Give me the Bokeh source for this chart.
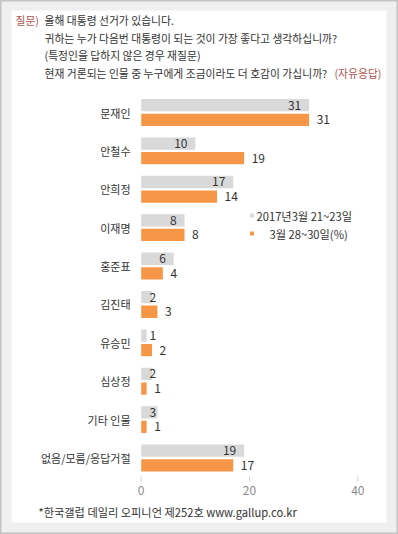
import numpy as np
from bokeh.plotting import figure
from bokeh.models import Range1d
from bokeh.core.properties import value
from bokeh.embed import file_html
from bokeh.resources import INLINE

# ---------------- data ----------------
categories = ["문재인", "안철수", "안희정", "이재명", "홍준표", "김진태",
              "유승민", "심상정", "기타 인물", "없음/모름/응답거절"]
week_mar21_23 = [31, 10, 17, 8, 6, 2, 1, 2, 3, 19]
week_mar28_30 = [31, 19, 14, 8, 4, 3, 2, 1, 1, 17]
series_names = ["2017년3월 21~23일", "3월 28~30일(%)"]
x_ticks = [0, 20, 40]
x_tick_labels = ["0", "20", "40"]
question_tag = "질문)"
question_lines = [
    "올해 대통령 선거가 있습니다.",
    "귀하는 누가 다음번 대통령이 되는 것이 가장 좋다고 생각하십니까?",
    "(특정인을 답하지 않은 경우 재질문)",
    "현재 거론되는 인물 중 누구에게 조금이라도 더 호감이 가십니까?",
]
question_note = "(자유응답)"
footnote = "*한국갤럽 데일리 오피니언 제252호 www.gallup.co.kr"

# ---------------- style ----------------
W, H = 398, 534
FONT = value("Noto Sans CJK KR")
TXT = "#333333"
RED = "#b0524d"
GRAY_BAR = "#d9d9d9"
ORANGE_BAR = "#f79646"

# pixel placement of the value scale
X0, XS = 140.7, 5.415      # pixel of x=0, pixels per unit
Y0, YS = 112.0, 38.39      # pixel of first category, pixels per category

p = figure(width=W, height=H,
           x_range=Range1d(-X0 / XS, (W - X0) / XS),
           y_range=Range1d(start=(H - Y0) / YS, end=-Y0 / YS),
           x_axis_location=None, y_axis_location=None,
           toolbar_location=None, output_backend="svg",
           min_border=0, background_fill_color="#efefef",
           border_fill_color="#efefef",
           outline_line_color="#c4c4c4", outline_line_width=2)
for g in p.grid:
    g.visible = False

p.extra_x_ranges = {"px": Range1d(0, W)}
p.extra_y_ranges = {"py": Range1d(H, 0)}

# white panel
p.quad(left=[11], right=[386], top=[10], bottom=[522],
       x_range_name="px", y_range_name="py",
       fill_color="white", line_color=None)

idx = np.arange(len(categories))
v1 = np.array(week_mar21_23, dtype=float)
v2 = np.array(week_mar28_30, dtype=float)
y1 = idx - 0.19
y2 = idx + 0.19

p.hbar(y=y1, left=0, right=v1, height=0.32, fill_color=GRAY_BAR, line_color=None)
p.hbar(y=y2, left=0, right=v2, height=0.32, fill_color=ORANGE_BAR, line_color=None)

# category labels
p.text(x=[130] * len(categories), y=idx, text=categories,
       x_range_name="px", text_align="right", text_baseline="middle",
       text_font=FONT, text_font_size="11px", text_color=TXT)

# value labels, series 1 (inside end)
big = v1 > 4
p.text(x=v1[big] - 1.45, y=y1[big], text=[str(int(v)) for v in v1[big]],
       text_align="right", text_baseline="middle",
       text_font=FONT, text_font_size="12px", text_color=TXT)
p.text(x=[1.55] * int((~big).sum()), y=y1[~big], text=[str(int(v)) for v in v1[~big]],
       text_align="left", text_baseline="middle",
       text_font=FONT, text_font_size="12px", text_color=TXT)
# value labels, series 2 (outside end)
p.text(x=v2 + 1.4, y=y2, text=[str(int(v)) for v in v2],
       text_align="left", text_baseline="middle",
       text_font=FONT, text_font_size="12px", text_color=TXT)

# x ticks and labels
p.segment(x0=x_ticks, x1=x_ticks, y0=[476] * 3, y1=[481] * 3,
          y_range_name="py", line_color="#d0d0d0", line_width=1)
p.text(x=x_ticks, y=[490] * 3, text=x_tick_labels, y_range_name="py",
       text_align="center", text_baseline="middle",
       text_font=FONT, text_font_size="12px", text_color="#8c8c8c")

# legend
p.rect(x=[251.5, 251.5], y=[215, 233], width=4, height=4,
       x_range_name="px", y_range_name="py",
       fill_color=[GRAY_BAR, ORANGE_BAR], line_color=None)
p.text(x=[256, 269], y=[215, 233], text=series_names,
       x_range_name="px", y_range_name="py",
       text_align="left", text_baseline="middle",
       text_font=FONT, text_font_size="11.2px", text_color=TXT)

# question text
p.text(x=[15], y=[19.5], text=[question_tag], x_range_name="px", y_range_name="py",
       text_align="left", text_baseline="middle",
       text_font=FONT, text_font_size="10.8px", text_color=RED)
p.text(x=[44] * 4, y=[19.5, 37, 54.5, 72], text=question_lines,
       x_range_name="px", y_range_name="py",
       text_align="left", text_baseline="middle",
       text_font=FONT, text_font_size="10.8px", text_color=TXT)
p.text(x=[381], y=[72], text=[question_note], x_range_name="px", y_range_name="py",
       text_align="right", text_baseline="middle",
       text_font=FONT, text_font_size="10.8px", text_color=RED)

# footnote
p.text(x=[38], y=[511], text=[footnote], x_range_name="px", y_range_name="py",
       text_align="left", text_baseline="middle",
       text_font=FONT, text_font_size="11.2px", text_color=TXT)

open("out.html", "w").write(file_html(p, INLINE))
